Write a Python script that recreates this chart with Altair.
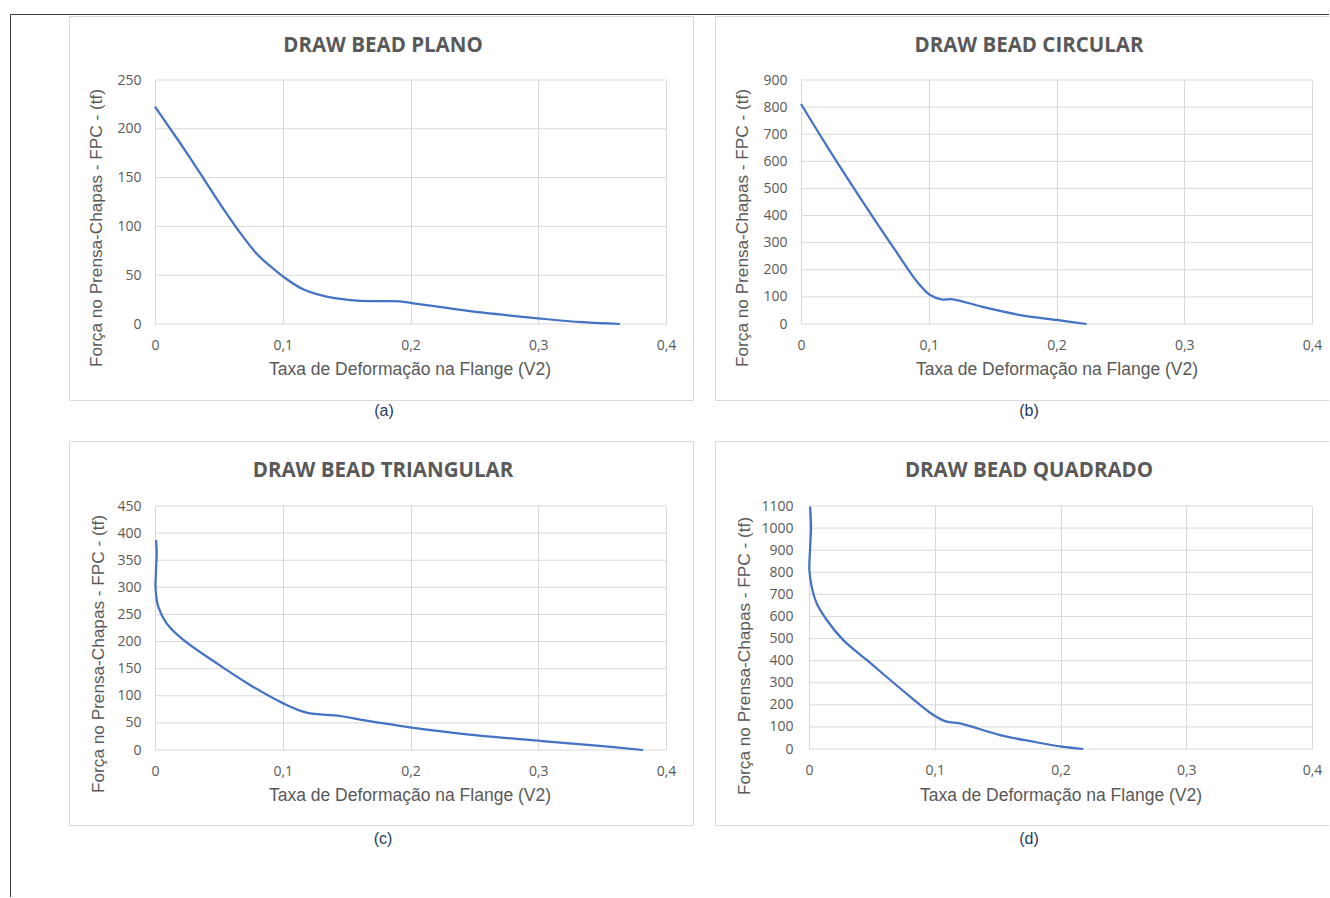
import altair as alt
import pandas as pd

# ---------------- data ----------------
x_ticks = [0, 0.1, 0.2, 0.3, 0.4]

plano_v = [0, 0.0117, 0.0222, 0.0378, 0.0509, 0.0652, 0.0796, 0.0900, 0.1004, 0.116,
           0.1344, 0.158, 0.18, 0.1918, 0.2022, 0.231, 0.257, 0.300, 0.335, 0.364]
plano_f = [222.7, 200.5, 180.5, 149.5, 123, 96, 72, 59.5, 48.5, 35.5,
           28, 23.9, 23.5, 23.2, 21.2, 16, 11.6, 5.8, 1.8, 0]

circ_v = [0, 0.0214, 0.0475, 0.0736, 0.0918, 0.101, 0.110, 0.119, 0.1414, 0.1727, 0.2001, 0.2236]
circ_f = [811.6, 648, 457, 273, 150, 107, 91, 91, 64, 32, 14.8, 0]

tri_v = [0.0008, 0.0013, 0.0008, 0.0005, 0.0026, 0.0091, 0.0222, 0.0483, 0.0744, 0.1004,
         0.1187, 0.1448, 0.1657, 0.1996, 0.244, 0.300, 0.348, 0.382]
tri_f = [387, 363, 332, 295, 264, 233.6, 203, 160, 120, 86,
         69, 62.7, 54, 41.8, 28.9, 17.2, 7.4, 0]

quad_v = [0.0008, 0.0016, 0.0008, 0.0003, 0.0021, 0.0061, 0.0141, 0.0273, 0.0459, 0.0724,
          0.0989, 0.1095, 0.12, 0.1519, 0.1784, 0.201, 0.2181]
quad_f = [1097, 1006, 901, 810, 735, 660, 584, 493, 403, 275,
          154, 124, 116, 63, 33, 10.6, 0]

titles = ["DRAW BEAD PLANO", "DRAW BEAD CIRCULAR", "DRAW BEAD TRIANGULAR", "DRAW BEAD QUADRADO"]
captions = ["(a)", "(b)", "(c)", "(d)"]
y_max = [250, 900, 450, 1100]
y_step = [50, 100, 50, 100]
x_title = "Taxa de Deformação na Flange (V2)"
y_title = "Força no Prensa-Chapas - FPC - (tf)"

# ---------------- style ----------------
GRAY = "#595959"
GRID = "#d9d9d9"
FRAME = "#d9d9d9"
LINE = "#4472C4"
PAGE = "#3a3a3a"
CAPTION = "#243a5e"
SANS = "Open Sans"
ARIAL = "Liberation Sans"
LABEL_SIZE = 14


def one_row():
    return pd.DataFrame({"k": [0]})


def text_layer(txt, x, y, size, font, weight="normal", color=GRAY, angle=None):
    kw = dict(text=txt, font=font, fontSize=size, fontWeight=weight, color=color,
              align="center", baseline="middle")
    if angle is not None:
        kw["angle"] = angle
    return alt.Chart(one_row()).mark_text(**kw).encode(x=alt.value(x), y=alt.value(y))


def rule_h(x1, x2, y, color, w=1):
    return alt.Chart(one_row()).mark_rule(color=color, strokeWidth=w).encode(
        x=alt.value(x1), x2=alt.value(x2), y=alt.value(y))


def rule_v(x, y1, y2, color, w=1):
    return alt.Chart(one_row()).mark_rule(color=color, strokeWidth=w).encode(
        x=alt.value(x), y=alt.value(y1), y2=alt.value(y2))


def frame(x1, x2, y1, y2, right=True):
    parts = [rule_h(x1, x2, y1, FRAME), rule_h(x1, x2, y2, FRAME), rule_v(x1, y1, y2, FRAME)]
    if right:
        parts.append(rule_v(x2, y1, y2, FRAME))
    return parts


def panel(v, f, k, g, extra=()):
    w, h = g["w"], g["h"]
    yticks = list(range(0, y_max[k] + 1, y_step[k]))
    xscale = alt.Scale(domain=[0, 0.4], range=g["xr"], nice=False, zero=False)
    yscale = alt.Scale(domain=[0, y_max[k]], nice=False)
    xaxis = alt.Axis(values=x_ticks, labelExpr="replace(format(datum.value, '.1~f'), '.', ',')",
                     title=None, grid=True, ticks=False, domain=False, labelFlush=False,
                     labelOverlap=False, labelPadding=14, labelFont=SANS,
                     labelFontSize=LABEL_SIZE, labelColor=GRAY)
    yaxis = alt.Axis(values=yticks, format="d", title=None, grid=False, ticks=False, domain=False,
                     labelOverlap=False, labelPadding=g["ylp"], labelFont=SANS,
                     labelFontSize=LABEL_SIZE, labelColor=GRAY)
    df = pd.DataFrame({"v": v, "f": f, "i": list(range(len(v)))})
    grid = alt.Chart(pd.DataFrame({"t": yticks})).mark_rule(color=GRID, strokeWidth=1).encode(
        x=alt.datum(0), x2=alt.datum(0.4),
        y=alt.Y("t:Q", scale=yscale, axis=yaxis))
    line = alt.Chart(df).mark_line(color=LINE, strokeWidth=2.25, interpolate="catmull-rom").encode(
        x=alt.X("v:Q", scale=xscale, axis=xaxis),
        y=alt.Y("f:Q", scale=yscale, axis=yaxis),
        order=alt.Order("i:Q"))
    fx1, fx2, fy1, fy2 = g["frame"]
    layers = [grid, line] + frame(fx1, fx2, fy1, fy2, g["right"]) + [
        text_layer(titles[k], g["tx"], g["ty"], 20.5, SANS, "bold"),
        text_layer(x_title, g["xtx"], g["xty"], 17.5, ARIAL),
        text_layer(y_title, g["ytx"], g["yty"], 17.2, ARIAL, angle=270),
        text_layer(captions[k], g["cx"], g["cy"], 16, ARIAL, color=CAPTION),
    ] + list(extra)
    return alt.layer(*layers).properties(width=w, height=h)


geo_a = dict(w=511, h=244, xr=[0, 511], ylp=14, frame=(-85.5, 538.5, -63.5, 320.5), right=True,
             tx=228, ty=-34, xtx=255, xty=290, ytx=-58, yty=148, cx=229, cy=331)
geo_b = dict(w=511, h=244, xr=[0, 511], ylp=14, frame=(-85.5, 528, -63.5, 320.5), right=False,
             tx=228, ty=-34, xtx=256, xty=290, ytx=-58, yty=148, cx=228, cy=331)
geo_c = dict(w=511, h=244, xr=[0, 511], ylp=14, frame=(-85.5, 538.5, -64.5, 319.5), right=True,
             tx=228, ty=-35, xtx=255, xty=290, ytx=-56, yty=148, cx=228, cy=333)
geo_d = dict(w=511, h=243, xr=[8, 511], ylp=8, frame=(-85.5, 528, -64.5, 319.5), right=False,
             tx=228, ty=-35, xtx=260, xty=290, ytx=-56, yty=150, cx=228, cy=333)

page = [rule_v(-144.5, -65.5, 817, PAGE), rule_h(-144.5, 1174, -65.5, PAGE)]

pa = panel(plano_v, plano_f, 0, geo_a, extra=page)
pb = panel(circ_v, circ_f, 1, geo_b)
pc = panel(tri_v, tri_f, 2, geo_c)
pd_ = panel(quad_v, quad_f, 3, geo_d)

chart = alt.concat(pa, pb, pc, pd_, columns=2, spacing={"column": 135, "row": 182},
                   bounds="flush").properties(
    padding={"left": 10, "top": 14, "right": 0, "bottom": 0},
    background="white",
).configure_view(strokeWidth=0).configure_axis(
    gridColor=GRID, gridWidth=1,
)

chart.save("out.html", embed_options={"renderer": "svg", "actions": False})
